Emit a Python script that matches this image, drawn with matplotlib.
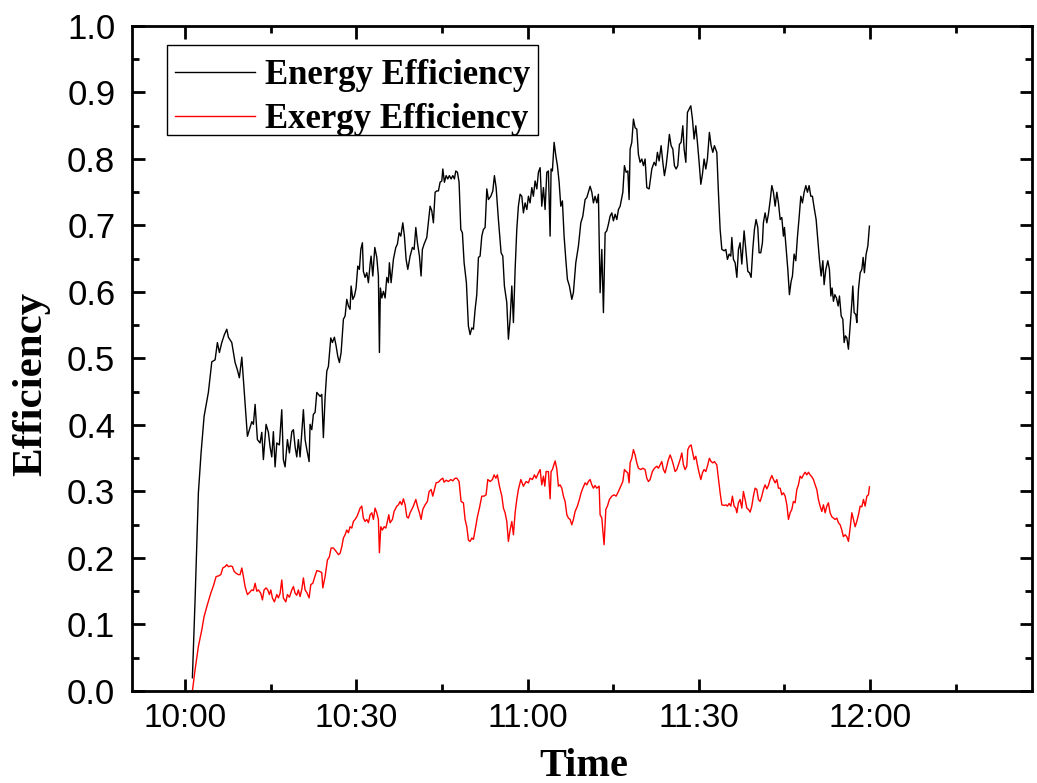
import matplotlib
matplotlib.use("Agg")
import matplotlib.pyplot as plt
from matplotlib.patches import Rectangle
from matplotlib.ticker import FixedLocator, MultipleLocator

# Time in minutes after 10:00, efficiency as a fraction
energy_t = [
    1.28, 1.75, 2.33, 2.80, 3.33, 4.08, 4.68, 5.26, 5.66, 6.01, 6.43, 6.89, 7.31, 7.59, 8.18,
    8.76, 9.16, 9.51, 9.94, 10.51, 10.92, 11.27, 11.69, 11.97, 12.27, 12.67, 13.14, 13.44, 13.72,
    14.19, 14.60, 14.89, 15.19, 15.47, 15.77, 16.07, 16.52, 16.94, 17.22, 17.52, 17.93, 18.28,
    18.70, 18.98, 19.28, 19.57, 19.85, 20.15, 20.45, 20.73, 21.03, 21.33, 21.73, 21.90, 22.20,
    22.48, 22.78, 23.08, 23.66, 23.95, 24.23, 24.53, 24.83, 25.11, 25.53, 25.81, 26.16, 26.46,
    26.76, 27.04, 27.34, 27.74, 28.04, 28.33, 28.62, 28.91, 29.09, 29.39, 29.67, 29.96, 30.26,
    30.54, 30.79, 31.07, 31.24, 31.54, 31.84, 32.12, 32.42, 32.59, 32.89, 33.24, 33.59, 33.87,
    34.05, 34.22, 34.47, 34.75, 35.05, 35.34, 35.62, 35.80, 36.10, 36.50, 36.92, 37.20, 37.50,
    37.80, 38.15, 38.43, 38.73, 39.02, 39.43, 39.83, 40.13, 40.43, 40.71, 41.06, 41.35, 41.58,
    41.88, 42.35, 42.63, 42.93, 43.23, 43.51, 43.81, 44.10, 44.39, 44.68, 44.98, 45.16, 45.44,
    45.74, 46.03, 46.31, 46.61, 46.91, 47.19, 47.43, 47.72, 48.01, 48.31, 48.59, 48.89, 49.29,
    49.64, 49.94, 50.24, 50.52, 50.82, 51.11, 51.40, 51.69, 51.99, 52.27, 52.57, 52.87, 53.15,
    53.57, 53.92, 54.20, 54.50, 54.90, 55.37, 55.67, 55.95, 56.37, 56.65, 56.95, 57.25, 57.53,
    57.83, 58.12, 58.40, 58.70, 59.00, 59.28, 59.58, 59.88, 60.16, 60.45, 60.75, 61.03, 61.33,
    61.63, 61.91, 62.21, 62.50, 62.79, 63.08, 63.38, 63.66, 63.96, 64.13, 64.36, 64.66, 64.96,
    65.24, 65.54, 65.83, 66.11, 66.41, 66.71, 66.99, 67.34, 67.76, 68.04, 68.46, 68.92, 69.34,
    69.69, 70.09, 70.39, 70.67, 70.97, 71.27, 71.55, 71.84, 72.14, 72.42, 72.72, 73.02, 73.30,
    73.60, 73.89, 74.18, 74.47, 74.77, 75.05, 75.35, 75.65, 75.93, 76.23, 76.70, 76.98, 77.28,
    77.58, 77.80, 77.98, 78.27, 78.56, 78.85, 79.15, 79.43, 79.73, 80.03, 80.31, 80.60, 80.90,
    81.31, 81.78, 82.18, 82.48, 82.76, 83.06, 83.41, 83.71, 83.99, 84.29, 84.58, 84.86, 85.16,
    85.46, 85.74, 86.04, 86.33, 86.62, 86.91, 87.21, 87.44, 87.74, 88.02, 88.32, 88.61, 88.90,
    89.19, 89.49, 89.77, 90.07, 90.37, 90.65, 90.94, 91.24, 91.52, 91.87, 92.17, 92.47, 92.75,
    93.17, 93.45, 93.75, 94.05, 94.45, 94.75, 95.03, 95.33, 95.62, 95.80, 96.08, 96.38, 96.68,
    96.96, 97.25, 97.55, 97.95, 98.25, 98.60, 98.88, 99.18, 99.47, 99.76, 100.05, 100.35, 100.58,
    100.87, 101.16, 101.33, 101.63, 101.93, 102.21, 102.51, 102.81, 103.09, 103.39, 103.69,
    103.97, 104.27, 104.56, 104.84, 105.02, 105.31, 105.61, 105.89, 106.19, 106.42, 106.71,
    107.01, 107.29, 107.59, 107.89, 108.17, 108.47, 108.77, 109.05, 109.34, 109.64, 109.92,
    110.22, 110.57, 110.87, 111.15, 111.45, 111.75, 111.97, 112.27, 112.62, 112.90, 113.15,
    113.37, 113.60, 113.85, 114.13, 114.43, 114.66, 114.96, 115.25, 115.48, 115.71, 115.95,
    116.23, 116.53, 116.83, 117.00, 117.23, 117.53, 117.70, 117.99, 118.29, 118.58, 118.81,
    119.03, 119.33, 119.63, 119.91,
]
energy_v = [
    0.020, 0.137, 0.298, 0.358, 0.413, 0.449, 0.495, 0.498, 0.524, 0.509, 0.524, 0.536, 0.544, 0.532, 0.524,
    0.494, 0.483, 0.471, 0.502, 0.434, 0.383, 0.393, 0.405, 0.401, 0.431, 0.378, 0.373, 0.389, 0.348,
    0.401, 0.389, 0.367, 0.352, 0.390, 0.337, 0.373, 0.370, 0.423, 0.348, 0.337, 0.378, 0.358,
    0.390, 0.393, 0.367, 0.352, 0.378, 0.352, 0.389, 0.423, 0.378, 0.363, 0.345, 0.401, 0.393,
    0.416, 0.419, 0.449, 0.443, 0.446, 0.381, 0.441, 0.481, 0.488, 0.531, 0.524, 0.532, 0.519,
    0.503, 0.494, 0.509, 0.559, 0.564, 0.589, 0.579, 0.574, 0.609, 0.589, 0.594, 0.606, 0.639,
    0.634, 0.664, 0.674, 0.631, 0.622, 0.629, 0.614, 0.642, 0.654, 0.624, 0.667, 0.652, 0.624,
    0.509, 0.606, 0.591, 0.601, 0.591, 0.622, 0.614, 0.644, 0.614, 0.649, 0.667, 0.672, 0.689,
    0.684, 0.704, 0.684, 0.649, 0.634, 0.654, 0.667, 0.664, 0.697, 0.674, 0.654, 0.624, 0.664,
    0.672, 0.682, 0.704, 0.729, 0.722, 0.704, 0.750, 0.752, 0.752, 0.765, 0.767, 0.785, 0.765,
    0.775, 0.770, 0.775, 0.770, 0.775, 0.770, 0.782, 0.780, 0.765, 0.694, 0.689, 0.644, 0.614,
    0.549, 0.536, 0.546, 0.544, 0.574, 0.596, 0.652, 0.654, 0.684, 0.694, 0.697, 0.755, 0.739,
    0.744, 0.752, 0.775, 0.757, 0.709, 0.659, 0.654, 0.609, 0.584, 0.529, 0.559, 0.609, 0.554,
    0.634, 0.694, 0.729, 0.747, 0.744, 0.719, 0.734, 0.724, 0.744, 0.734, 0.757, 0.744, 0.767,
    0.755, 0.780, 0.787, 0.729, 0.757, 0.724, 0.780, 0.782, 0.684, 0.785, 0.782, 0.825, 0.805,
    0.790, 0.765, 0.729, 0.737, 0.684, 0.649, 0.619, 0.609, 0.589, 0.599, 0.644, 0.669, 0.704,
    0.714, 0.739, 0.742, 0.750, 0.759, 0.750, 0.734, 0.744, 0.734, 0.747, 0.599, 0.664, 0.569,
    0.689, 0.692, 0.702, 0.714, 0.719, 0.707, 0.717, 0.709, 0.724, 0.729, 0.750, 0.790, 0.780,
    0.782, 0.739, 0.815, 0.825, 0.860, 0.847, 0.845, 0.807, 0.795, 0.800, 0.790, 0.800, 0.757,
    0.755, 0.785, 0.795, 0.790, 0.810, 0.797, 0.820, 0.795, 0.775, 0.790, 0.812, 0.837, 0.820,
    0.815, 0.790, 0.785, 0.790, 0.822, 0.825, 0.850, 0.815, 0.795, 0.870, 0.875, 0.880, 0.860,
    0.830, 0.850, 0.825, 0.795, 0.762, 0.777, 0.800, 0.785, 0.800, 0.840, 0.820, 0.810, 0.820,
    0.810, 0.750, 0.694, 0.664, 0.662, 0.664, 0.649, 0.657, 0.654, 0.682, 0.649, 0.644, 0.622,
    0.664, 0.674, 0.642, 0.692, 0.664, 0.631, 0.629, 0.622, 0.664, 0.694, 0.709, 0.697, 0.659,
    0.659, 0.674, 0.704, 0.719, 0.704, 0.717, 0.737, 0.760, 0.750, 0.729, 0.750,
    0.734, 0.709, 0.712, 0.684, 0.697, 0.667, 0.634, 0.596, 0.616, 0.624, 0.657,
    0.647, 0.682, 0.712, 0.744, 0.734, 0.750, 0.760, 0.750, 0.760, 0.744, 0.744,
    0.727, 0.709, 0.677, 0.649, 0.624, 0.647, 0.611, 0.634, 0.647, 0.634, 0.594,
    0.606, 0.586, 0.596, 0.591, 0.579, 0.594, 0.564, 0.559, 0.524, 0.534, 0.531,
    0.514, 0.549, 0.584, 0.609, 0.569, 0.566, 0.554, 0.604, 0.629, 0.634, 0.652,
    0.629, 0.657, 0.669, 0.699,
]

exergy_t = [
    1.28, 1.75, 2.33, 2.93, 3.33, 3.91, 4.50, 4.96, 5.43, 5.84, 6.26, 6.61, 7.01, 7.31, 7.59,
    8.01, 8.29, 8.59, 8.94, 9.34, 9.64, 9.94, 10.22, 10.51, 10.92, 11.27, 11.69, 11.97, 12.27,
    12.56, 12.84, 13.26, 13.55, 13.84, 14.19, 14.49, 14.77, 15.02, 15.30, 15.65, 16.07, 16.35,
    16.65, 16.94, 17.22, 17.65, 17.93, 18.28, 18.70, 18.98, 19.28, 19.57, 19.85, 20.15, 20.45,
    20.73, 21.03, 21.33, 21.73, 22.03, 22.38, 22.66, 23.08, 23.53, 23.95, 24.13, 24.53, 24.94,
    25.29, 25.58, 25.99, 26.46, 26.86, 27.16, 27.46, 27.74, 28.04, 28.33, 28.62, 28.91, 29.21,
    29.49, 29.79, 30.09, 30.37, 30.67, 30.96, 31.24, 31.54, 31.84, 32.12, 32.42, 32.72, 33.00,
    33.29, 33.59, 33.87, 34.05, 34.29, 34.57, 34.87, 35.17, 35.45, 35.69, 35.92, 36.33, 36.62,
    37.10, 37.38, 37.67, 37.97, 38.25, 38.55, 38.85, 39.13, 39.43, 39.72, 40.00, 40.43, 40.71,
    41.06, 41.35, 41.65, 42.06, 42.46, 42.76, 43.11, 43.40, 43.69, 43.98, 44.39, 44.81, 45.16,
    45.38, 45.74, 46.14, 46.56, 46.91, 47.31, 47.61, 48.01, 48.36, 48.77, 49.06, 49.36, 49.64,
    49.94, 50.24, 50.52, 50.82, 51.22, 51.57, 51.99, 52.39, 52.74, 53.04, 53.45, 53.85, 54.15,
    54.44, 54.72, 55.08, 55.50, 55.78, 56.07, 56.37, 56.65, 56.95, 57.25, 57.53, 57.83, 58.12,
    58.40, 58.83, 59.28, 59.75, 60.16, 60.45, 60.86, 61.21, 61.51, 61.91, 62.21, 62.50, 62.79,
    63.03, 63.26, 63.66, 63.96, 64.13, 64.36, 64.84, 65.13, 65.41, 65.71, 66.01, 66.29, 66.59,
    66.89, 67.17, 67.46, 67.76, 68.04, 68.34, 68.74, 69.09, 69.39, 69.69, 70.09, 70.39, 70.67,
    70.97, 71.27, 71.55, 71.84, 72.14, 72.55, 72.72, 73.02, 73.19, 73.42, 73.72, 74.00, 74.35,
    74.77, 75.17, 75.52, 75.93, 76.35, 76.70, 76.98, 77.28, 77.58, 77.80, 77.98, 78.27, 78.56,
    78.85, 79.15, 79.43, 79.85, 80.20, 80.60, 80.90, 81.18, 81.48, 81.88, 82.24, 82.66, 82.94,
    83.23, 83.53, 83.81, 84.11, 84.41, 84.69, 84.99, 85.29, 85.56, 85.86, 86.16, 86.44, 86.74,
    87.04, 87.32, 87.61, 87.91, 88.09, 88.37, 88.67, 88.96, 89.19, 89.49, 89.77, 90.07, 90.37,
    90.65, 90.94, 91.24, 91.52, 91.87, 92.17, 92.47, 92.75, 93.17, 93.45, 93.75, 94.05, 94.45,
    94.75, 95.03, 95.33, 95.62, 95.90, 96.20, 96.50, 96.68, 96.96, 97.25, 97.55, 97.83, 98.13,
    98.43, 98.71, 99.01, 99.30, 99.58, 99.88, 100.18, 100.46, 100.76, 101.05, 101.33, 101.63,
    101.93, 102.21, 102.51, 102.81, 103.09, 103.39, 103.69, 103.97, 104.27, 104.56, 104.84,
    105.14, 105.44, 105.72, 106.02, 106.31, 106.59, 106.89, 107.19, 107.47, 107.77, 108.06,
    108.34, 108.64, 108.94, 109.22, 109.52, 109.82, 110.10, 110.40, 110.69, 110.97, 111.27,
    111.57, 111.85, 112.15, 112.44, 112.72, 113.02, 113.32, 113.60, 113.90, 114.20, 114.48,
    114.78, 115.07, 115.35, 115.65, 115.95, 116.23, 116.53, 116.83, 117.11, 117.41, 117.70,
    117.99, 118.29, 118.58, 118.87, 119.16, 119.46, 119.74, 119.91,
]
exergy_v = [
    0.000, 0.032, 0.067, 0.092, 0.112, 0.130, 0.147, 0.158, 0.172, 0.173, 0.175, 0.185, 0.187, 0.190, 0.187,
    0.188, 0.187, 0.180, 0.177, 0.175, 0.175, 0.185, 0.172, 0.157, 0.145, 0.148, 0.152, 0.151, 0.162,
    0.150, 0.152, 0.147, 0.137, 0.152, 0.155, 0.152, 0.145, 0.152, 0.140, 0.134, 0.145, 0.140,
    0.147, 0.167, 0.140, 0.134, 0.145, 0.141, 0.152, 0.157, 0.147, 0.144, 0.152, 0.142, 0.153,
    0.170, 0.152, 0.148, 0.140, 0.160, 0.162, 0.170, 0.181, 0.180, 0.178, 0.155, 0.172, 0.197,
    0.202, 0.215, 0.215, 0.210, 0.205, 0.207, 0.217, 0.230, 0.235, 0.242, 0.238, 0.247, 0.245,
    0.255, 0.258, 0.262, 0.268, 0.275, 0.278, 0.260, 0.255, 0.258, 0.253, 0.265, 0.268, 0.258,
    0.275, 0.268, 0.258, 0.208, 0.247, 0.242, 0.247, 0.245, 0.255, 0.265, 0.253, 0.258, 0.270,
    0.278, 0.280, 0.285, 0.280, 0.289, 0.280, 0.262, 0.260, 0.268, 0.273, 0.278, 0.288, 0.278,
    0.268, 0.258, 0.273, 0.280, 0.285, 0.300, 0.303, 0.293, 0.303, 0.313, 0.314, 0.318, 0.320,
    0.314, 0.317, 0.315, 0.318, 0.316, 0.320, 0.320, 0.315, 0.285, 0.283, 0.258, 0.247, 0.227,
    0.225, 0.230, 0.228, 0.242, 0.262, 0.275, 0.293, 0.293, 0.295, 0.318, 0.315, 0.318, 0.325,
    0.320, 0.325, 0.308, 0.293, 0.275, 0.268, 0.255, 0.225, 0.242, 0.255, 0.235, 0.268, 0.288,
    0.303, 0.318, 0.308, 0.315, 0.313, 0.320, 0.318, 0.325, 0.320, 0.328, 0.333, 0.310, 0.323,
    0.308, 0.330, 0.330, 0.289, 0.330, 0.333, 0.346, 0.334, 0.308, 0.310, 0.305, 0.293, 0.285,
    0.265, 0.260, 0.258, 0.250, 0.258, 0.270, 0.278, 0.288, 0.298, 0.305, 0.313, 0.310, 0.315,
    0.318, 0.310, 0.305, 0.309, 0.305, 0.308, 0.265, 0.260, 0.242, 0.220, 0.273, 0.278, 0.288,
    0.293, 0.295, 0.293, 0.300, 0.308, 0.315, 0.333, 0.330, 0.328, 0.313, 0.343, 0.350, 0.363,
    0.355, 0.343, 0.335, 0.333, 0.335, 0.333, 0.320, 0.315, 0.318, 0.330, 0.335, 0.338, 0.335,
    0.340, 0.345, 0.333, 0.328, 0.338, 0.348, 0.355, 0.348, 0.340, 0.330, 0.333, 0.340, 0.348,
    0.358, 0.340, 0.333, 0.338, 0.363, 0.368, 0.370, 0.358, 0.348, 0.353, 0.340, 0.328, 0.318,
    0.328, 0.333, 0.330, 0.338, 0.350, 0.345, 0.343, 0.345, 0.340, 0.320, 0.298, 0.280, 0.279,
    0.280, 0.278, 0.282, 0.278, 0.293, 0.278, 0.275, 0.268, 0.283, 0.288, 0.275, 0.300, 0.288,
    0.275, 0.273, 0.269, 0.278, 0.293, 0.305, 0.303, 0.288, 0.285, 0.293, 0.303, 0.310,
    0.304, 0.309, 0.318, 0.324, 0.318, 0.313, 0.318, 0.305, 0.305, 0.295, 0.298,
    0.293, 0.280, 0.258, 0.268, 0.273, 0.285, 0.283, 0.303, 0.310, 0.323, 0.320,
    0.325, 0.329, 0.325, 0.329, 0.325, 0.322, 0.318, 0.310, 0.303, 0.288, 0.278,
    0.270, 0.280, 0.268, 0.278, 0.283, 0.268, 0.262, 0.260, 0.258, 0.260, 0.253,
    0.250, 0.242, 0.232, 0.235, 0.232, 0.225, 0.245, 0.268, 0.258, 0.247, 0.255,
    0.265, 0.278, 0.277, 0.288, 0.278, 0.293, 0.295, 0.307,
]

series_labels = ["Energy Efficiency", "Exergy Efficiency"]
major_ticks = [0, 30, 60, 90, 120]
major_labels = ["10:00", "10:30", "11:00", "11:30", "12:00"]
minor_ticks = [15, 45, 75, 105, 135]
y_ticks = [0.0, 0.1, 0.2, 0.3, 0.4, 0.5, 0.6, 0.7, 0.8, 0.9, 1.0]

fig = plt.figure(figsize=(10.37, 7.83), dpi=100)
ax = fig.add_axes([0.1273, 0.1175, 0.8679, 0.8493])

ax.plot(energy_t, energy_v, color="black", lw=1.0, label=series_labels[0])
ax.plot(exergy_t, exergy_v, color="red", lw=1.0, label=series_labels[1])

ax.set_xlim(-9.3, 148.4)
ax.set_ylim(0.0, 1.0)

ax.xaxis.set_major_locator(FixedLocator(major_ticks))
ax.set_xticklabels(major_labels)
ax.xaxis.set_minor_locator(FixedLocator(minor_ticks))
ax.yaxis.set_major_locator(FixedLocator(y_ticks))
ax.set_yticklabels([f"{v:.1f}" for v in y_ticks])
ax.yaxis.set_minor_locator(MultipleLocator(0.05))

for s in ax.spines.values():
    s.set_linewidth(2.0)

ax.tick_params(which="major", direction="in", length=9, width=2.0,
               top=True, right=True, labelsize=24, pad=9)
ax.tick_params(which="minor", direction="in", length=5, width=2.0,
               top=True, right=True)
ax.tick_params(axis="y", which="major", labelsize=25, pad=12)
for lab in ax.get_xticklabels() + ax.get_yticklabels():
    lab.set_fontfamily("Liberation Sans")

ax.set_xlabel("Time", fontfamily="Liberation Serif", fontweight="bold", fontsize=29)
ax.set_ylabel("Efficiency", fontfamily="Liberation Serif", fontweight="bold", fontsize=31)
ax.xaxis.set_label_coords(0.502, -0.085)
ax.yaxis.set_label_coords(-0.091, 0.462)

# Legend entries without their own frame; a plain box is drawn around them
leg = ax.legend(loc="upper left", bbox_to_anchor=(0.0323, 0.971), borderaxespad=0,
                prop={"family": "Liberation Serif", "weight": "bold", "size": 25},
                frameon=False, handlelength=2.3, handletextpad=0.3,
                labelspacing=0.32, borderpad=0.4)
ax.add_patch(Rectangle((0.0389, 0.8361), 0.4122, 0.1353, transform=ax.transAxes,
                       fill=False, edgecolor="black", lw=1.0, zorder=5))

fig.savefig("out.png", dpi=100)
